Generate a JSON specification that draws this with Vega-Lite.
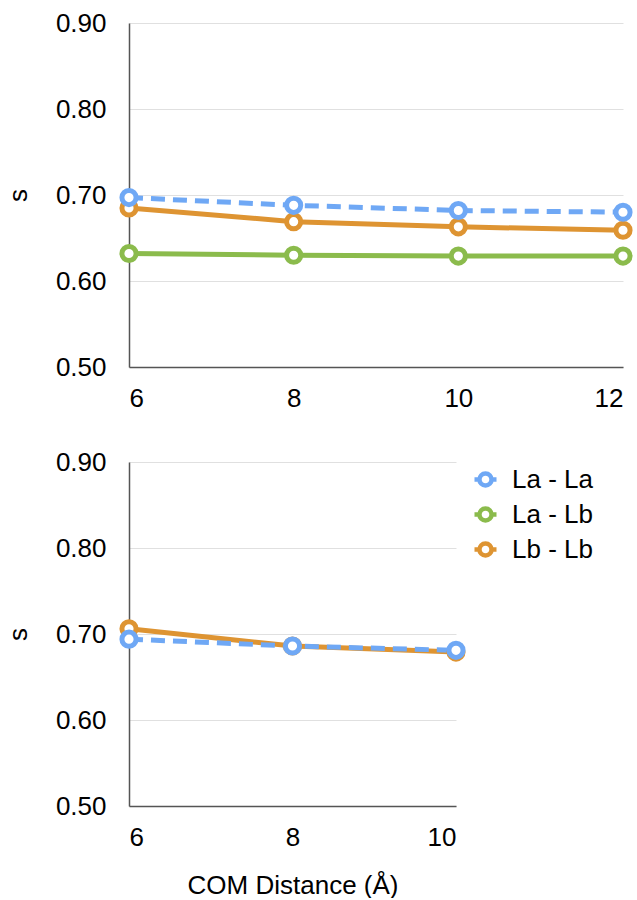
{
  "$schema": "https://vega.github.io/schema/vega-lite/v6.json",
  "background": "white",
  "padding": {"left": 5, "top": 10, "right": 0, "bottom": 0},
  "datasets": {
    "pts": [
      {"panel": "top", "pair": "Lb - Lb", "dist": 6, "s": 0.685},
      {"panel": "top", "pair": "Lb - Lb", "dist": 8, "s": 0.669},
      {"panel": "top", "pair": "Lb - Lb", "dist": 10, "s": 0.663},
      {"panel": "top", "pair": "Lb - Lb", "dist": 12, "s": 0.659},
      {"panel": "top", "pair": "La - Lb", "dist": 6, "s": 0.632},
      {"panel": "top", "pair": "La - Lb", "dist": 8, "s": 0.630},
      {"panel": "top", "pair": "La - Lb", "dist": 10, "s": 0.629},
      {"panel": "top", "pair": "La - Lb", "dist": 12, "s": 0.629},
      {"panel": "top", "pair": "La - La", "dist": 6, "s": 0.697},
      {"panel": "top", "pair": "La - La", "dist": 8, "s": 0.688},
      {"panel": "top", "pair": "La - La", "dist": 10, "s": 0.682},
      {"panel": "top", "pair": "La - La", "dist": 12, "s": 0.680},
      {"panel": "bottom", "pair": "Lb - Lb", "dist": 6, "s": 0.706},
      {"panel": "bottom", "pair": "Lb - Lb", "dist": 8, "s": 0.686},
      {"panel": "bottom", "pair": "Lb - Lb", "dist": 10, "s": 0.679},
      {"panel": "bottom", "pair": "La - La", "dist": 6, "s": 0.694},
      {"panel": "bottom", "pair": "La - La", "dist": 8, "s": 0.686},
      {"panel": "bottom", "pair": "La - La", "dist": 10, "s": 0.681}
    ]
  },
  "config": {
    "font": "Liberation Sans",
    "view": {"stroke": null},
    "axis": {
      "labelFont": "Liberation Sans",
      "labelFontSize": 26,
      "labelColor": "black",
      "titleFont": "Liberation Sans",
      "titleFontSize": 26,
      "titleFontWeight": "normal",
      "titleColor": "black",
      "ticks": false,
      "domainColor": "#555555",
      "domainWidth": 1.5,
      "gridColor": "#e0e0e0",
      "gridWidth": 1
    },
    "legend": {
      "labelFont": "Liberation Sans",
      "labelFontSize": 26,
      "labelColor": "black"
    },
    "concat": {"spacing": 38}
  },
  "resolve": {"legend": {"color": "independent"}},
  "vconcat": [
    {
      "width": 494,
      "height": 344,
      "data": {"name": "pts"},
      "transform": [{"filter": "datum.panel === 'top'"}],
      "encoding": {
        "x": {
          "field": "dist", "type": "quantitative",
          "scale": {"domain": [6, 12], "nice": false, "zero": false},
          "axis": {"values": [6, 8, 10, 12], "grid": false, "title": null, "labelPadding": 18}
        },
        "y": {
          "field": "s", "type": "quantitative",
          "scale": {"domain": [0.5, 0.9], "nice": false, "zero": false},
          "axis": {"values": [0.5, 0.6, 0.7, 0.8, 0.9], "format": ".2f", "title": "s", "labelPadding": 23, "titlePadding": 24}
        },
        "color": {
          "field": "pair", "type": "nominal",
          "scale": {"domain": ["La - La", "La - Lb", "Lb - Lb"], "range": ["#6fa8f5", "#8bbb4c", "#de9432"]},
          "legend": null
        }
      },
      "layer": [
        {
          "transform": [{"filter": "datum.pair !== 'La - La'"}],
          "mark": {"type": "line", "strokeWidth": 5}
        },
        {
          "transform": [{"filter": "datum.pair === 'La - La'"}],
          "mark": {"type": "line", "strokeWidth": 5, "strokeDash": [14, 8]}
        },
        {
          "mark": {"type": "point", "filled": false, "fill": "white", "strokeWidth": 5, "size": 200, "opacity": 1}
        }
      ]
    },
    {
      "width": 327,
      "height": 344,
      "data": {"name": "pts"},
      "transform": [{"filter": "datum.panel === 'bottom'"}],
      "encoding": {
        "x": {
          "field": "dist", "type": "quantitative",
          "scale": {"domain": [6, 10], "nice": false, "zero": false},
          "axis": {"values": [6, 8, 10], "grid": false, "title": "COM Distance (Å)", "labelPadding": 18, "titlePadding": 22}
        },
        "y": {
          "field": "s", "type": "quantitative",
          "scale": {"domain": [0.5, 0.9], "nice": false, "zero": false},
          "axis": {"values": [0.5, 0.6, 0.7, 0.8, 0.9], "format": ".2f", "title": "s", "labelPadding": 23, "titlePadding": 24}
        },
        "color": {
          "field": "pair", "type": "nominal",
          "scale": {"domain": ["La - La", "La - Lb", "Lb - Lb"], "range": ["#6fa8f5", "#8bbb4c", "#de9432"]},
          "legend": {
            "title": null,
            "orient": "right",
            "offset": 2,
            "padding": 4,
            "symbolType": "M-1,0H-0.55M0.55,0H1M-0.55,0A0.55,0.55,0,1,0,0.55,0A0.55,0.55,0,1,0,-0.55,0Z",
            "symbolSize": 484,
            "symbolStrokeWidth": 4.5,
            "symbolFillColor": "white",
            "labelOffset": 13,
            "rowPadding": 4,
            "encode": {"symbols": {"update": {"fill": {"value": "white"}, "opacity": {"value": 1}}}}
          }
        }
      },
      "layer": [
        {
          "transform": [{"filter": "datum.pair !== 'La - La'"}],
          "mark": {"type": "line", "strokeWidth": 5}
        },
        {
          "transform": [{"filter": "datum.pair === 'La - La'"}],
          "mark": {"type": "line", "strokeWidth": 5, "strokeDash": [14, 8]}
        },
        {
          "mark": {"type": "point", "filled": false, "fill": "white", "strokeWidth": 5, "size": 200, "opacity": 1}
        }
      ]
    }
  ]
}
